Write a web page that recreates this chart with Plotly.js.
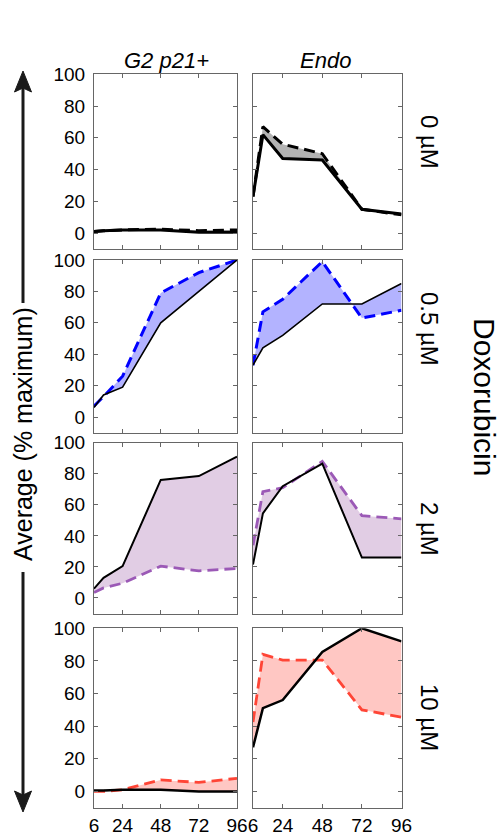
<!DOCTYPE html>
<html>
<head>
<meta charset="utf-8">
<script src="https://cdn.plot.ly/plotly-3.0.1.min.js"></script>
<style>html,body{margin:0;padding:0;background:#fff;}#chart{width:500px;height:834px;}</style>
</head>
<body>
<div id="chart"></div>
<script>
// ---- data ----
const hours = [6, 12, 24, 48, 72, 96];
const xTickVals = [6, 24, 48, 72, 96];
const xTickText = ['6', '24', '48', '72', '96'];
const yTickVals = [0, 20, 40, 60, 80, 100];
const columns = ['G2 p21+', 'Endo'];
const doses = ['0 µM', '0.5 µM', '2 µM', '10 µM'];

const g2_0_solid = [1, 1.5, 2, 2, 0.5, 0.5];
const g2_0_dash  = [1, 1.5, 2, 2.5, 1.5, 2];
const endo_0_solid = [23, 62, 47, 46, 15, 12];
const endo_0_dash  = [23, 67, 56, 50, 15, 11.5];

const g2_05_solid = [6, 14, 19, 60, 80, 100];
const g2_05_dash  = [7, 13, 26, 79, 92, 100];
const endo_05_solid = [33, 44, 52, 72, 72, 85];
const endo_05_dash  = [33, 67, 75, 99, 63, 68];

const g2_2_solid = [6, 13, 20.5, 76, 78.5, 91];
const g2_2_dash  = [3.5, 6.5, 9.5, 20.5, 17.5, 19];
const endo_2_solid = [21.5, 54.5, 72, 86.5, 26, 26];
const endo_2_dash  = [34, 68.5, 71, 88, 53, 51];

const g2_10_solid = [0.5, 0.5, 1, 1, 0, 0];
const g2_10_dash  = [0, 0, 1, 7, 5.5, 8];
const endo_10_solid = [27, 51, 56, 85.5, 100, 92];
const endo_10_dash  = [42.5, 84, 80.5, 80.5, 50, 45.5];

const solidSeries = [[g2_0_solid, endo_0_solid], [g2_05_solid, endo_05_solid], [g2_2_solid, endo_2_solid], [g2_10_solid, endo_10_solid]];
const dashSeries  = [[g2_0_dash, endo_0_dash], [g2_05_dash, endo_05_dash], [g2_2_dash, endo_2_dash], [g2_10_dash, endo_10_dash]];

// ---- styles ----
const lineColors = ['#000000', '#0000ff', '#9b59b6', '#ff4536'];
const fillColors = ['#b3b3b3', '#b3b3ff', '#e1cde4', '#ffc7c3'];
const solidWidths = [3, 1.6, 2, 2.5];
const dashWidths = [3, 3, 2.8, 2.8];

const W = 500, H = 834;
const fx = p => p / W;
const fy = p => 1 - p / H;
const colDom = [[94, 237], [253, 401.5]];
const rowDom = [[74.3, 249], [260, 432.7], [442.7, 613.5], [628.3, 807.7]];
const font = 'Liberation Sans, Arial, sans-serif';
const axColor = '#666666';

const traces = [];
const layout = {
  width: W, height: H, margin: {l: 0, r: 0, t: 0, b: 0},
  paper_bgcolor: '#fff', plot_bgcolor: '#fff', showlegend: false,
  font: {family: font, color: '#000'},
  annotations: [], shapes: []
};

let k = 0;
for (let r = 0; r < 4; r++) {
  for (let c = 0; c < 2; c++) {
    k++;
    const xa = 'x' + (k === 1 ? '' : k), ya = 'y' + (k === 1 ? '' : k);
    const xk = 'xaxis' + (k === 1 ? '' : k), yk = 'yaxis' + (k === 1 ? '' : k);
    const s = solidSeries[r][c], d = dashSeries[r][c];
    // fill between the two curves
    traces.push({
      x: hours.concat(hours.slice().reverse()),
      y: s.concat(d.slice().reverse()),
      xaxis: xa, yaxis: ya, mode: 'lines', fill: 'toself',
      fillcolor: fillColors[r], line: {width: 0}, hoverinfo: 'skip'
    });
    traces.push({
      x: hours, y: d, xaxis: xa, yaxis: ya, mode: 'lines',
      line: {color: lineColors[r], width: dashWidths[r], dash: '11px,6px'}
    });
    traces.push({
      x: hours, y: s, xaxis: xa, yaxis: ya, mode: 'lines',
      line: {color: '#000', width: solidWidths[r]}
    });
    layout[xk] = {
      domain: [fx(colDom[c][0]), fx(colDom[c][1])], anchor: ya,
      range: [6, 96], tickvals: xTickVals, ticktext: xTickText,
      showticklabels: r === 3, ticks: 'inside', ticklen: 4, tickcolor: axColor,
      showline: true, linecolor: axColor, linewidth: 1, mirror: 'ticks',
      showgrid: false, zeroline: false, fixedrange: true,
      tickfont: {family: font, size: 19, color: '#000'}
    };
    layout[yk] = {
      domain: [fy(rowDom[r][1]), fy(rowDom[r][0])], anchor: xa,
      range: [-10, 100], tickvals: yTickVals,
      showticklabels: c === 0, ticks: 'inside', ticklen: 4, tickcolor: axColor,
      showline: true, linecolor: axColor, linewidth: 1, mirror: 'ticks',
      showgrid: false, zeroline: false, fixedrange: true,
      tickfont: {family: font, size: 19, color: '#000'},
      ticklabelstandoff: 4
    };
  }
}

// column titles
const colTitleX = [166, 325];
columns.forEach((t, i) => layout.annotations.push({
  text: '<i>' + t + '</i>', xref: 'paper', yref: 'paper', x: fx(colTitleX[i]), y: fy(60),
  xanchor: 'center', yanchor: 'middle', showarrow: false, font: {family: font, size: 22, color: '#000'}
}));
// dose labels
const doseY = [142, 329, 529, 717];
doses.forEach((t, i) => layout.annotations.push({
  text: t, xref: 'paper', yref: 'paper', x: fx(430), y: fy(doseY[i]), textangle: 90,
  xanchor: 'center', yanchor: 'middle', showarrow: false, font: {family: font, size: 24, color: '#000'}
}));
layout.annotations.push({
  text: 'Doxorubicin', xref: 'paper', yref: 'paper', x: fx(484), y: fy(397), textangle: 90,
  xanchor: 'center', yanchor: 'middle', showarrow: false, font: {family: font, size: 30, color: '#000'}
});
layout.annotations.push({
  text: 'Average (% maximum)', xref: 'paper', yref: 'paper', x: fx(23), y: fy(434), textangle: -90,
  xanchor: 'center', yanchor: 'middle', showarrow: false, font: {family: font, size: 25, color: '#000'}
});

// arrows
const ac = '#1a1a1a';
layout.shapes.push({type: 'line', xref: 'paper', yref: 'paper', x0: fx(23), x1: fx(23), y0: fy(88), y1: fy(303), line: {color: ac, width: 3}});
layout.shapes.push({type: 'line', xref: 'paper', yref: 'paper', x0: fx(23), x1: fx(23), y0: fy(572), y1: fy(795), line: {color: ac, width: 3}});
layout.shapes.push({type: 'path', xref: 'paper', yref: 'paper',
  path: `M ${fx(23)} ${fy(71)} L ${fx(31.5)} ${fy(92)} L ${fx(23)} ${fy(88)} L ${fx(14.5)} ${fy(92)} Z`,
  fillcolor: ac, line: {color: ac, width: 1}});
layout.shapes.push({type: 'path', xref: 'paper', yref: 'paper',
  path: `M ${fx(23)} ${fy(812)} L ${fx(31.5)} ${fy(791)} L ${fx(23)} ${fy(795)} L ${fx(14.5)} ${fy(791)} Z`,
  fillcolor: ac, line: {color: ac, width: 1}});

Plotly.newPlot('chart', traces, layout, {displayModeBar: false, staticPlot: true});
</script>
</body>
</html>
